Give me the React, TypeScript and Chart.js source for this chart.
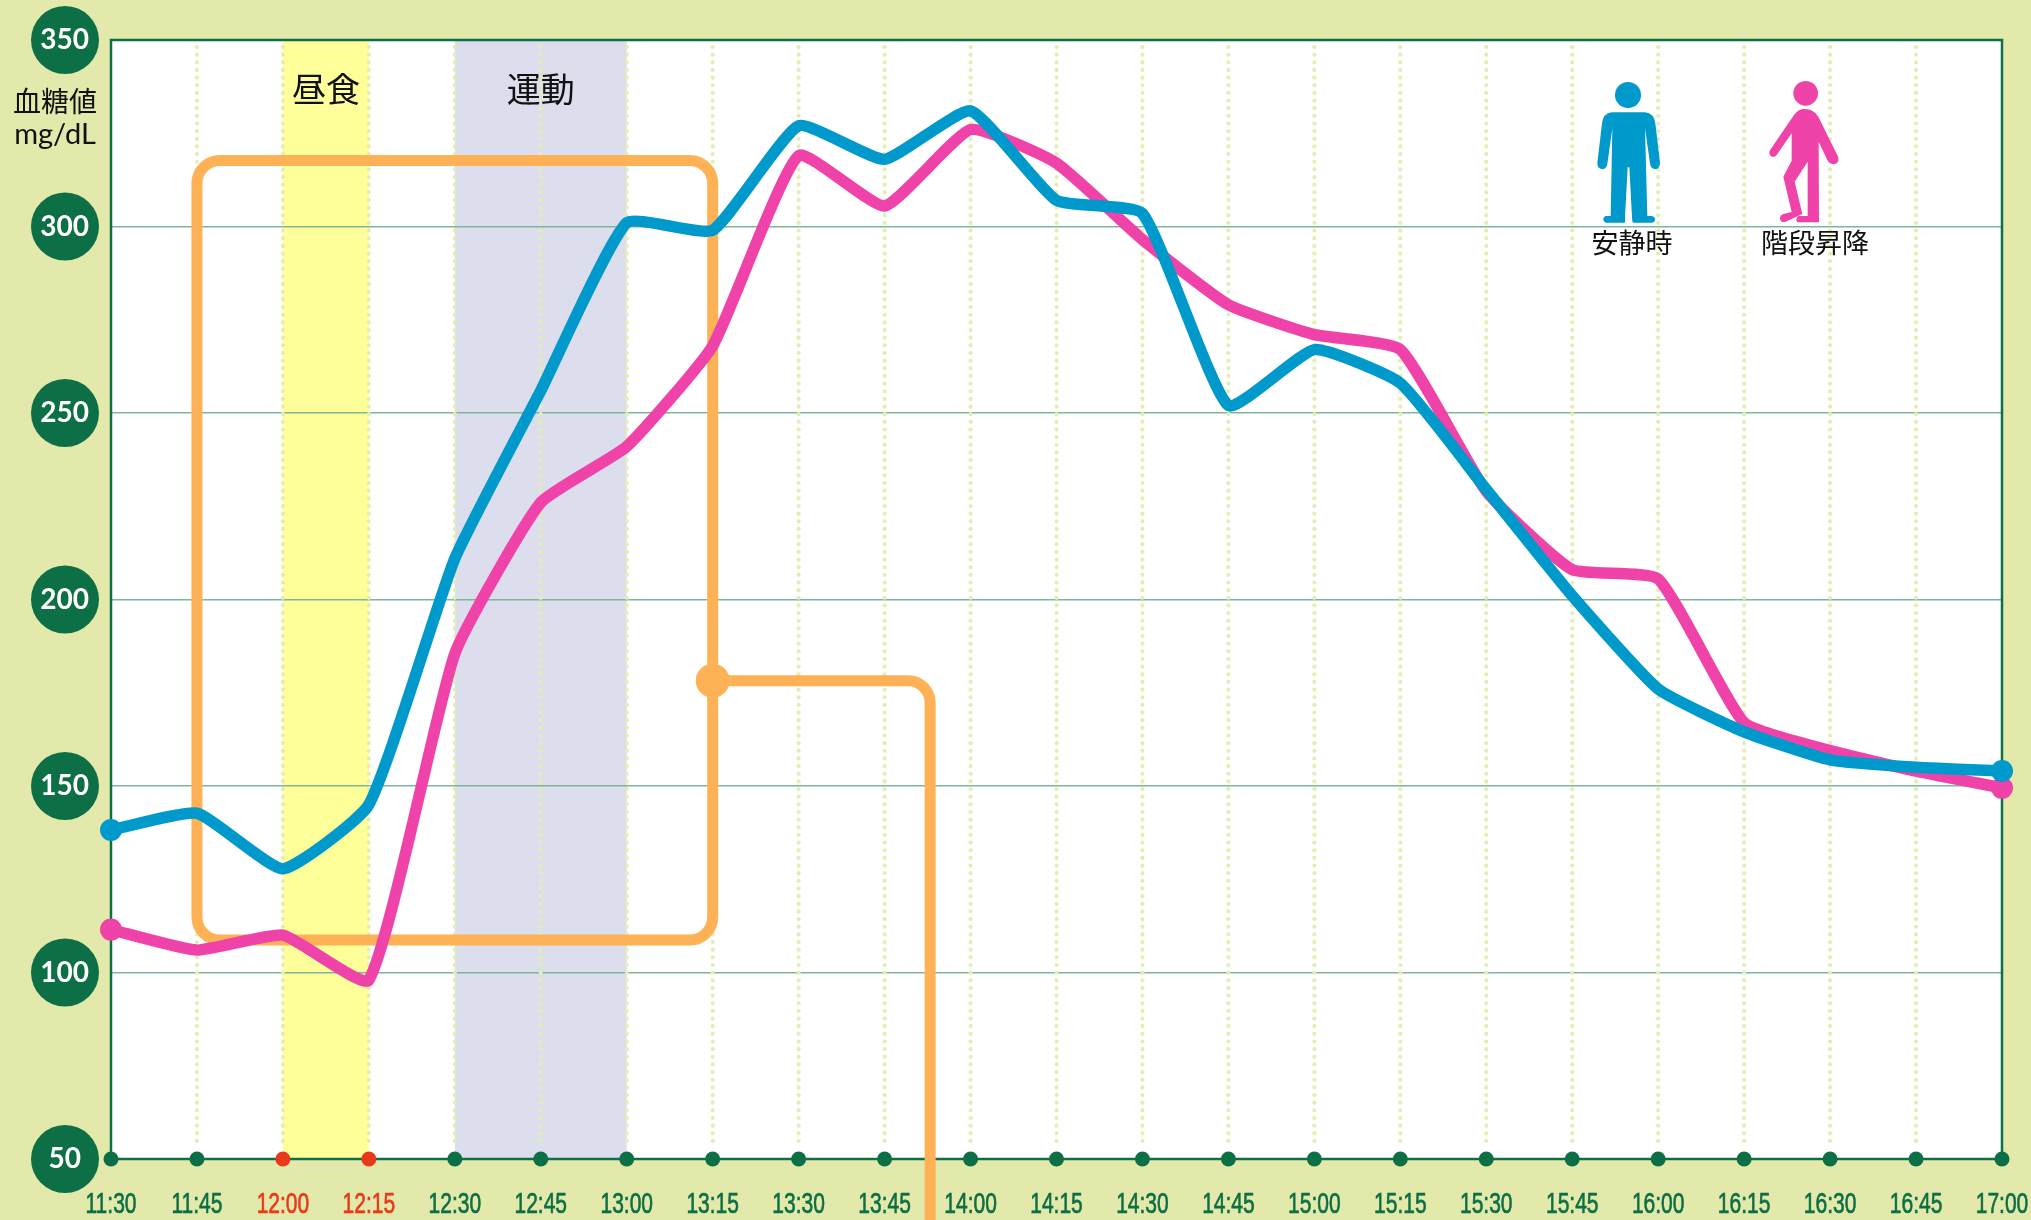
import React, { useEffect, useRef } from "react";
import { Chart, registerables } from "chart.js";

Chart.register(...registerables);

const times = ["11:30","11:45","12:00","12:15","12:30","12:45","13:00","13:15","13:30","13:45","14:00","14:15","14:30","14:45","15:00","15:15","15:30","15:45","16:00","16:15","16:30","16:45","17:00"];
const restValues = [138.2,142.7,127.8,145,211,256,301,299,327,318,331,307,303.5,252,267,258,229.5,201,176,164.5,157,155,154];
const stairsValues = [111.5,106,110,98,185.5,226,241,268,319,305.5,326,317,296.5,279,271,267,229,208,205.5,167,159.5,154,149.5];
const redTimes = ["12:00","12:15"];
const mealBand = ["12:00","12:15"];
const exerciseBand = ["12:30","13:00"];
const highlightBox = { from: 1, to: 7, top: 317.7, bottom: 108.7, leaderValue: 178.2, leaderIndex: 9.53 };

const GREEN = "#0d6f45";
const RED = "#e83a1a";
const BLUE = "#0099cc";
const PINK = "#ef43a9";
const ORANGE = "#ffb156";
const PAGE = "#e3e9ab";
const JP = '"Noto Sans CJK JP"';

const BLUE_MAN = "M215 157 L315 157 Q342 160 346 190 L360 308 Q360 326 345 328 Q332 326 330 310 L315 205 L322 468 L335 468 Q345 470 345 479 Q344 488 335 488 L280 488 Q276 486 276 470 L268 322 L263 322 L255 470 L255 488 L197 488 Q190 486 190 478 Q190 469 200 468 L212 468 L217 205 L202 312 Q200 326 187 328 Q172 326 172 310 L186 190 Q190 160 215 157 Z";
const PINK_MAN = "M790 147 Q820 145 835 170 L895 292 Q898 310 882 313 Q870 313 862 300 L836 245 L837 487 L772 487 Q765 478 775 468 L803 468 L803 305 L764 365 L787 462 L735 486 Q722 488 720 476 Q720 466 730 462 L755 456 L730 350 L755 302 L755 220 L710 285 Q700 295 692 288 Q684 278 692 268 L762 165 Q775 147 790 147 Z";

function centeredText(ctx: CanvasRenderingContext2D, text: string, x: number, y: number, font: string, color = "#111") {
  ctx.font = font;
  ctx.fillStyle = color;
  ctx.textAlign = "center";
  ctx.textBaseline = "middle";
  ctx.fillText(text, x, y);
}

const decor = {
  id: "decor",
  beforeDraw(chart: any) {
    const { ctx, chartArea: a, scales } = chart;
    const x = scales.x;
    const y = scales.y;
    ctx.save();
    ctx.fillStyle = PAGE;
    ctx.fillRect(0, 0, chart.width, chart.height);
    ctx.fillStyle = "#fff";
    ctx.fillRect(a.left, a.top, a.right - a.left, a.bottom - a.top);
    const band = (range: string[], color: string) => {
      const l = x.getPixelForValue(times.indexOf(range[0]));
      const r = x.getPixelForValue(times.indexOf(range[1]));
      ctx.fillStyle = color;
      ctx.fillRect(l, a.top, r - l, a.bottom - a.top);
    };
    band(mealBand, "#ffff99");
    band(exerciseBand, "#dcdded");
    ctx.fillStyle = GREEN;
    y.ticks.forEach((t: any) => {
      ctx.beginPath();
      ctx.arc(65, y.getPixelForValue(t.value), 34, 0, Math.PI * 2);
      ctx.fill();
    });
    ctx.restore();
  },
  beforeDatasetsDraw(chart: any) {
    const { ctx, chartArea: a, scales } = chart;
    const x = scales.x;
    const y = scales.y;
    ctx.save();
    // dotted verticals
    ctx.strokeStyle = "#e3eeb0";
    ctx.lineWidth = 4.2;
    ctx.lineCap = "round";
    ctx.setLineDash([0, 7.65]);
    times.forEach((_, i) => {
      if (i === 0 || i === times.length - 1) return;
      const px = x.getPixelForValue(i);
      ctx.beginPath();
      ctx.moveTo(px, a.top + 7);
      ctx.lineTo(px, a.bottom - 12);
      ctx.stroke();
    });
    ctx.setLineDash([]);
    ctx.lineCap = "butt";
    // frame
    ctx.strokeStyle = GREEN;
    ctx.lineWidth = 2.5;
    ctx.strokeRect(a.left, a.top, a.right - a.left, a.bottom - a.top);
    // axis dots
    times.forEach((t, i) => {
      ctx.fillStyle = redTimes.includes(t) ? RED : GREEN;
      ctx.beginPath();
      ctx.arc(x.getPixelForValue(i), a.bottom, 7.5, 0, Math.PI * 2);
      ctx.fill();
    });
    // highlight box and leader
    const b = highlightBox;
    const l = x.getPixelForValue(b.from);
    const r = x.getPixelForValue(b.to);
    const t = y.getPixelForValue(b.top);
    const bt = y.getPixelForValue(b.bottom);
    const ly = y.getPixelForValue(b.leaderValue);
    const lx = x.getPixelForValue(b.leaderIndex);
    ctx.strokeStyle = ORANGE;
    ctx.fillStyle = ORANGE;
    ctx.lineWidth = 11;
    ctx.beginPath();
    ctx.roundRect(l, t, r - l, bt - t, 23);
    ctx.stroke();
    ctx.beginPath();
    ctx.moveTo(r, ly);
    ctx.arcTo(lx, ly, lx, ly + 30, 22);
    ctx.lineTo(lx, chart.height);
    ctx.stroke();
    ctx.beginPath();
    ctx.arc(r, ly, 17, 0, Math.PI * 2);
    ctx.fill();
    ctx.restore();
  },
  afterDraw(chart: any) {
    const { ctx, scales } = chart;
    const x = scales.x;
    ctx.save();
    const mid = (range: string[]) =>
      (x.getPixelForValue(times.indexOf(range[0])) + x.getPixelForValue(times.indexOf(range[1]))) / 2;
    centeredText(ctx, "昼食", mid(mealBand), 89, `34px ${JP}`);
    centeredText(ctx, "運動", mid(exerciseBand), 89, `34px ${JP}`);
    centeredText(ctx, "血糖値", 55, 101, `28px ${JP}`);
    centeredText(ctx, "mg/dL", 55, 135, `29px Lato`);
    centeredText(ctx, "安静時", 1632, 243, `27px ${JP}`);
    centeredText(ctx, "階段昇降", 1815, 243, `27px ${JP}`);
    // condensed time labels
    const bottom = chart.chartArea.bottom;
    times.forEach((t, i) => {
      const color = redTimes.includes(t) ? RED : GREEN;
      ctx.save();
      ctx.translate(x.getPixelForValue(i), bottom + 46);
      ctx.scale(0.7, 1);
      ctx.font = '30px "Liberation Sans"';
      ctx.fillStyle = color;
      ctx.strokeStyle = color;
      ctx.lineWidth = 0.7;
      ctx.textAlign = "center";
      ctx.textBaseline = "middle";
      ctx.fillText(t, 0, 0);
      ctx.strokeText(t, 0, 0);
      ctx.restore();
    });
    ctx.translate(1540, 60);
    ctx.scale(1 / 3, 1 / 3);
    ctx.fillStyle = BLUE;
    ctx.beginPath();
    ctx.arc(264, 105, 39, 0, Math.PI * 2);
    ctx.fill();
    ctx.fill(new Path2D(BLUE_MAN));
    ctx.fillStyle = PINK;
    ctx.beginPath();
    ctx.arc(797, 100, 37, 0, Math.PI * 2);
    ctx.fill();
    ctx.fill(new Path2D(PINK_MAN));
    ctx.restore();
  },
};

export default function App() {
  const ref = useRef<HTMLCanvasElement>(null);
  useEffect(() => {
    const last = times.length - 1;
    const endOnly = (c: any) => (c.dataIndex === 0 || c.dataIndex === last ? 11 : 0);
    const line = { borderWidth: 11.5, tension: 0.15, pointBorderWidth: 0, clip: false, borderJoinStyle: "round", borderCapStyle: "round" };
    const chart = new Chart(ref.current as HTMLCanvasElement, {
      type: "line",
      data: {
        labels: times,
        datasets: [
          { ...line, label: "安静時", data: restValues, borderColor: BLUE, backgroundColor: BLUE, pointRadius: endOnly, order: 1 },
          { ...line, label: "階段昇降", data: stairsValues, borderColor: PINK, backgroundColor: PINK, pointRadius: endOnly, order: 2 },
        ],
      },
      options: {
        responsive: false,
        devicePixelRatio: 1,
        animation: false,
        layout: { padding: { top: 40, right: 29, bottom: 0, left: 0 } },
        plugins: { legend: { display: false }, tooltip: { enabled: false }, title: { display: false } },
        scales: {
          x: {
            type: "category",
            offset: false,
            grid: { display: false, drawTicks: false },
            border: { display: false },
            afterFit: (s: any) => { s.height = 61; s.paddingLeft = 0; s.paddingRight = 0; },
            ticks: { display: false, autoSkip: false, maxRotation: 0, minRotation: 0 },
          },
          y: {
            min: 50,
            max: 350,
            grid: {
              drawTicks: false,
              lineWidth: 1.5,
              color: (c: any) => (c.tick.value === 50 || c.tick.value === 350 ? "rgba(0,0,0,0)" : "#7fb59a"),
            },
            border: { display: false },
            afterFit: (s: any) => { s.width = 111; },
            ticks: {
              stepSize: 50,
              crossAlign: "center",
              padding: 22,
              color: "#ffffff",
              font: { family: "Lato", size: 28, weight: "bold" },
            },
          },
        },
      },
      plugins: [decor],
    } as any);
    return () => chart.destroy();
  }, []);
  return (
    <canvas
      ref={ref}
      width={2031}
      height={1220}
      style={{ position: "absolute", left: 0, top: 0, width: 2031, height: 1220, display: "block" }}
    />
  );
}
